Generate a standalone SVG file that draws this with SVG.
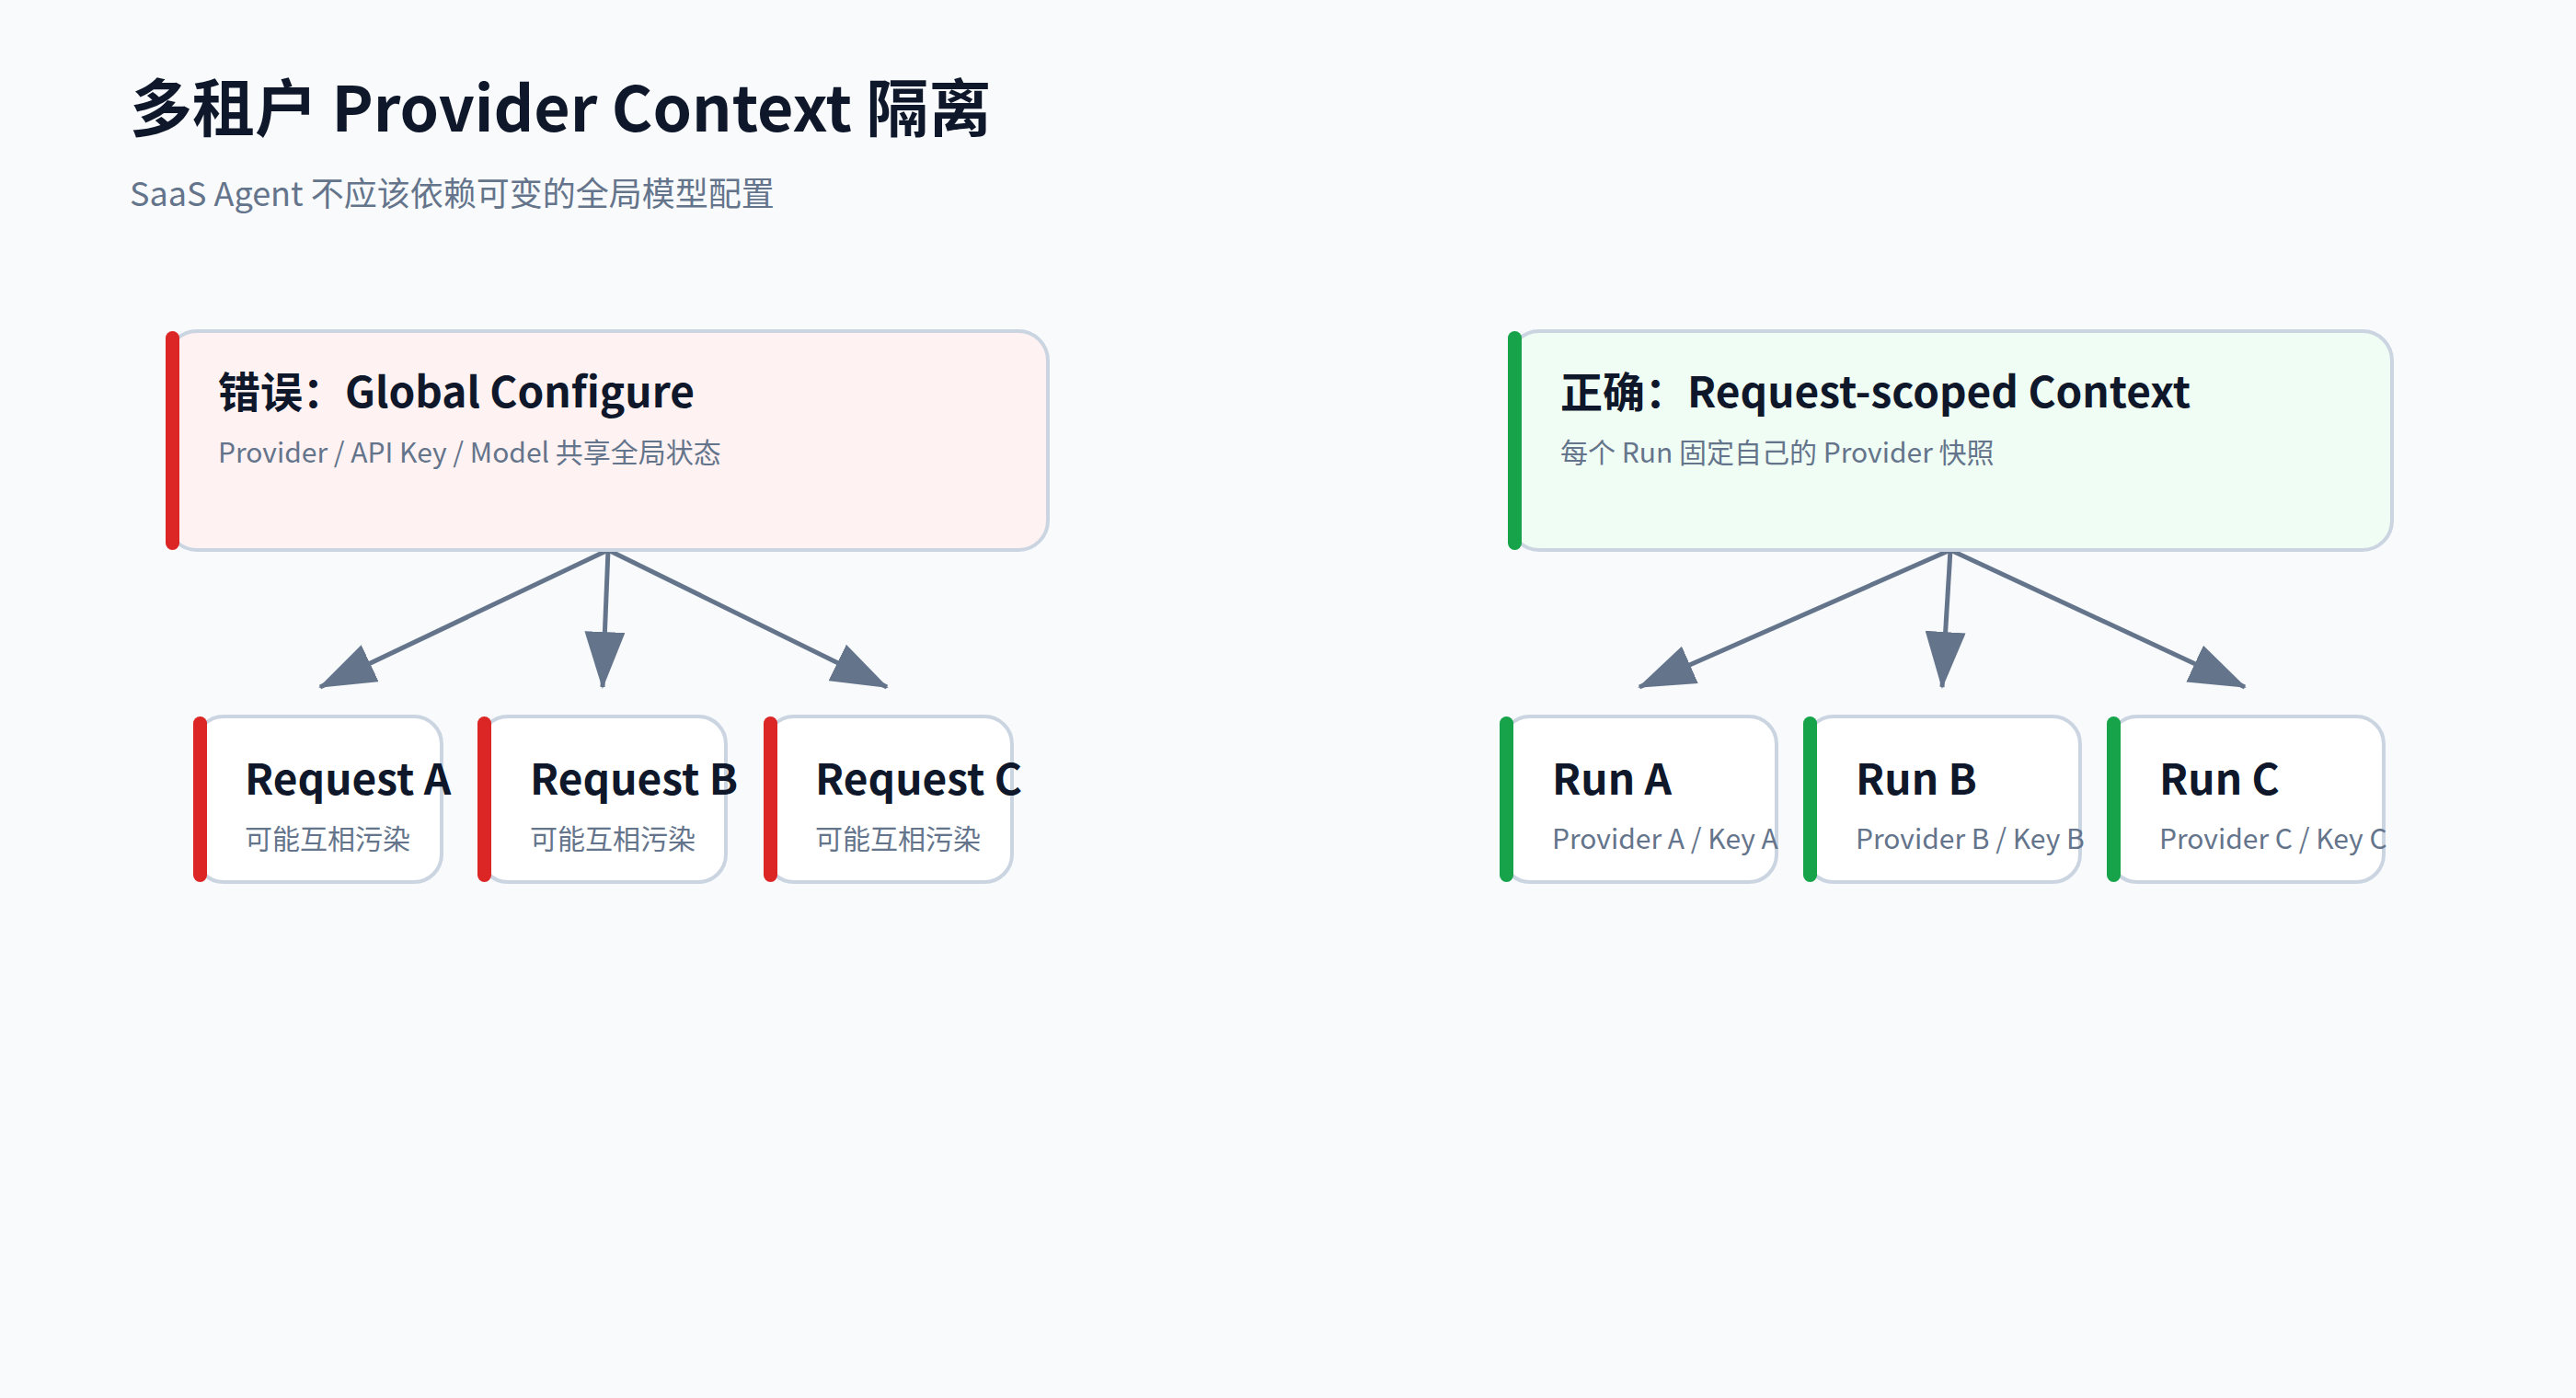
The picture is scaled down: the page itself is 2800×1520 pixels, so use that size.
<svg xmlns="http://www.w3.org/2000/svg" width="2800" height="1520" viewBox="0 0 2800 1520">
<style>
text{font-family:"Noto Sans CJK SC","Noto Sans",sans-serif}
.t{font-size:68px;font-weight:700;fill:#0f172a}
.st{font-size:36px;fill:#64748b}
.h{font-size:46px;font-weight:700;fill:#0f172a}
.s{font-size:30px;fill:#64748b}
.box{stroke:#cbd5e1;stroke-width:4}
.c{fill:#fff;stroke:#cbd5e1;stroke-width:4}
.e{stroke:#64748b;stroke-width:5;fill:none;marker-end:url(#ah)}
</style>
<defs>
<marker id="ah" markerUnits="userSpaceOnUse" markerWidth="64" markerHeight="44" refX="60" refY="22" orient="auto"><path d="M0,0 L62,22 L0,44 Z" fill="#64748b"/></marker>
</defs>
<rect width="2800" height="1520" fill="#f8fafc"/>
<text class="t" x="141" y="143">多租户 Provider Context 隔离</text>
<text class="st" x="141" y="224">SaaS Agent 不应该依赖可变的全局模型配置</text>
<g id="connectors">
<line class="e" x1="661" y1="598" x2="348" y2="747"/>
<line class="e" x1="661" y1="598" x2="655" y2="747"/>
<line class="e" x1="661" y1="598" x2="964" y2="747"/>
<line class="e" x1="2120" y1="598" x2="1782" y2="747"/>
<line class="e" x1="2120" y1="598" x2="2111" y2="747"/>
<line class="e" x1="2120" y1="598" x2="2440" y2="747"/>
</g>
<g id="wrong"><rect class="box" x="182" y="360" width="957" height="238" rx="32" fill="#fef2f2"/><rect x="180" y="360" width="15" height="238" rx="7.5" fill="#dc2626"/>
<text class="h" x="237" y="443">错误：Global Configure</text><text class="s" x="237" y="503">Provider / API Key / Model 共享全局状态</text></g>
<g id="right"><rect class="box" x="1641" y="360" width="959" height="238" rx="32" fill="#f0fdf4"/><rect x="1639" y="360" width="15" height="238" rx="7.5" fill="#16a34a"/>
<text class="h" x="1696" y="443">正确：Request-scoped Context</text><text class="s" x="1696" y="503">每个 Run 固定自己的 Provider 快照</text></g>
<g id="reqA"><rect class="c" x="213" y="779" width="267" height="180" rx="30"/><rect x="210" y="779" width="15" height="180" rx="7.5" fill="#dc2626"/><text class="h" x="266" y="864">Request A</text><text class="s" x="266" y="923">可能互相污染</text></g>
<g id="reqB"><rect class="c" x="522" y="779" width="267" height="180" rx="30"/><rect x="519" y="779" width="15" height="180" rx="7.5" fill="#dc2626"/><text class="h" x="576" y="864">Request B</text><text class="s" x="576" y="923">可能互相污染</text></g>
<g id="reqC"><rect class="c" x="833" y="779" width="267" height="180" rx="30"/><rect x="830" y="779" width="15" height="180" rx="7.5" fill="#dc2626"/><text class="h" x="886" y="864">Request C</text><text class="s" x="886" y="923">可能互相污染</text></g>
<g id="runA"><rect class="c" x="1633" y="779" width="298" height="180" rx="30"/><rect x="1630" y="779" width="15" height="180" rx="7.5" fill="#16a34a"/><text class="h" x="1687" y="864">Run A</text><text class="s" x="1687" y="923">Provider A / Key A</text></g>
<g id="runB"><rect class="c" x="1963" y="779" width="298" height="180" rx="30"/><rect x="1960" y="779" width="15" height="180" rx="7.5" fill="#16a34a"/><text class="h" x="2017" y="864">Run B</text><text class="s" x="2017" y="923">Provider B / Key B</text></g>
<g id="runC"><rect class="c" x="2293" y="779" width="298" height="180" rx="30"/><rect x="2290" y="779" width="15" height="180" rx="7.5" fill="#16a34a"/><text class="h" x="2347" y="864">Run C</text><text class="s" x="2347" y="923">Provider C / Key C</text></g>
</svg>
